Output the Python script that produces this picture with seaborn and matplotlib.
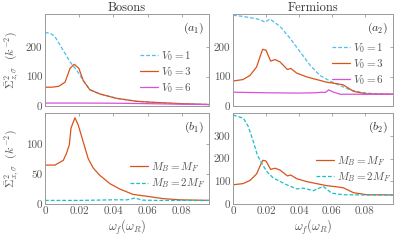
import numpy as np
import pandas as pd
import matplotlib
matplotlib.use("Agg")
import matplotlib.pyplot as plt
import seaborn as sns

# === DATA ===
# (a1) Bosons, Sigma^2 vs omega_f for three lattice depths
w_a1_v1 = [0.0, 0.003, 0.0058, 0.0087, 0.0117, 0.0146, 0.0185, 0.0223, 0.026, 0.032, 0.042, 0.0535, 0.065, 0.08, 0.0958]
s_a1_v1 = [250, 248, 236, 208, 179, 150, 122, 87, 57, 41, 26, 16, 11, 7, 5]
w_a1_v3 = [0.0, 0.004, 0.008, 0.0117, 0.0146, 0.0171, 0.0198, 0.0223, 0.0262, 0.032, 0.0418, 0.0535, 0.065, 0.08, 0.0958]
s_a1_v3 = [64, 64, 67, 81, 128, 142, 128, 87, 55, 41, 26, 16, 12, 8, 5]
w_a1_v6 = [0.0, 0.02, 0.04, 0.06, 0.08, 0.0958]
s_a1_v6 = [10, 10, 9.5, 8, 6, 5]

# (a2) Fermions
w_a2_v1 = [0.0, 0.006, 0.012, 0.0164, 0.0194, 0.0224, 0.0285, 0.0345, 0.0406, 0.0467, 0.0527,
           0.0588, 0.0648, 0.0709, 0.077, 0.085, 0.097]
s_a2_v1 = [309, 305, 299, 294, 285, 296, 271, 231, 185, 139, 104, 85, 70, 55, 47, 42, 40]
w_a2_v3 = [0.0, 0.006, 0.0103, 0.0143, 0.0164, 0.018, 0.02, 0.0228, 0.0255, 0.0285, 0.033, 0.035,
           0.0386, 0.0447, 0.0507, 0.0568, 0.0628, 0.0668, 0.073, 0.081, 0.097]
s_a2_v3 = [85, 90, 104, 133, 168, 193, 190, 153, 158, 150, 124, 128, 112, 99, 90, 81, 76, 72, 50, 41, 40]
w_a2_v6 = [0.0, 0.02, 0.04, 0.05, 0.054, 0.056, 0.058, 0.061, 0.065, 0.08, 0.097]
s_a2_v6 = [47, 45, 44, 45, 47, 46, 55, 47, 40, 40, 40]

# (b1) Bosons, two mass ratios
w_b1_eq = [0.0, 0.0058, 0.0107, 0.0126, 0.0142, 0.0152, 0.0175, 0.0194, 0.0223, 0.0252, 0.0282,
           0.032, 0.0379, 0.0437, 0.0515, 0.0593, 0.069, 0.0787, 0.0958]
s_b1_eq = [65, 65, 73, 85, 99, 127, 144, 132, 104, 76, 60, 48, 34, 25, 16, 13, 9, 7, 6]
w_b1_2x = [0.0, 0.02, 0.04, 0.048, 0.0525, 0.057, 0.065, 0.08, 0.0958]
s_b1_2x = [6, 6, 7, 7, 10, 6.5, 6, 6, 6]

# (b2) Fermions
w_b2_eq = w_a2_v3
s_b2_eq = s_a2_v3
w_b2_2x = [0.0, 0.0063, 0.0093, 0.0123, 0.0147, 0.0174, 0.0204, 0.0244, 0.0285, 0.0325, 0.0386,
           0.0426, 0.0487, 0.0547, 0.0598, 0.0668, 0.08, 0.097]
s_b2_2x = [393, 379, 342, 276, 217, 180, 144, 115, 100, 85, 67, 70, 59, 78, 48, 41, 40, 40]

xticks = [0, 0.02, 0.04, 0.06, 0.08]
xticklabels = ["0", "0.02", "0.04", "0.06", "0.08"]

# === STYLE ===
sns.set_style("white")
plt.rcParams["font.family"] = "serif"
plt.rcParams["font.serif"] = ["cmr10", "DejaVu Serif"]
plt.rcParams["mathtext.fontset"] = "cm"
plt.rcParams["axes.formatter.use_mathtext"] = True

ORANGE = "#D95319"
LBLUE = "#4DBEEE"
MAGENTA = "#DC4FDC"
CYAN = "#1ABFC6"
GREY = "#9a9a9a"
TXT = "#555555"
DASH = (0, (3, 1.6))

fig = plt.figure(figsize=(3.99, 2.42), dpi=100)
ax_a1 = fig.add_axes([0.1128, 0.562, 0.411, 0.380])
ax_a2 = fig.add_axes([0.584, 0.562, 0.401, 0.380])
ax_b1 = fig.add_axes([0.1128, 0.157, 0.411, 0.376])
ax_b2 = fig.add_axes([0.584, 0.157, 0.401, 0.376])


def line(ax, x, y, color, ls, label):
    sns.lineplot(x=x, y=y, ax=ax, color=color, linestyle=ls, linewidth=0.9, label=label)


line(ax_a1, w_a1_v1, s_a1_v1, LBLUE, DASH, r"$V_0 = 1$")
line(ax_a1, w_a1_v3, s_a1_v3, ORANGE, "-", r"$V_0 = 3$")
line(ax_a1, w_a1_v6, s_a1_v6, MAGENTA, "-", r"$V_0 = 6$")

line(ax_a2, w_a2_v1, s_a2_v1, LBLUE, DASH, r"$V_0 = 1$")
line(ax_a2, w_a2_v3, s_a2_v3, ORANGE, "-", r"$V_0 = 3$")
line(ax_a2, w_a2_v6, s_a2_v6, MAGENTA, "-", r"$V_0 = 6$")

line(ax_b1, w_b1_eq, s_b1_eq, ORANGE, "-", r"$M_B = M_F$")
line(ax_b1, w_b1_2x, s_b1_2x, CYAN, DASH, r"$M_B = 2M_F$")

line(ax_b2, w_b2_eq, s_b2_eq, ORANGE, "-", r"$M_B = M_F$")
line(ax_b2, w_b2_2x, s_b2_2x, CYAN, DASH, r"$M_B = 2M_F$")

limits = {ax_a1: (0.0958, 313, [0, 100, 200]),
          ax_a2: (0.097, 313, [0, 100, 200]),
          ax_b1: (0.0958, 152, [0, 50, 100]),
          ax_b2: (0.097, 402, [0, 100, 200, 300])}

for ax, (xmax, ymax, yt) in limits.items():
    ax.set_xlim(0, xmax)
    ax.set_ylim(0, ymax)
    ax.set_yticks(yt)
    ax.set_yticklabels([str(v) for v in yt])
    ax.set_xticks(xticks)
    ax.set_xlabel("")
    ax.set_ylabel("")
    for s in ax.spines.values():
        s.set_color(GREY)
        s.set_linewidth(0.7)
    ax.tick_params(direction="in", length=2.5, width=0.6, color=GREY, labelcolor=TXT,
                   labelsize=8, top=True, right=True, pad=2)

for ax in (ax_a1, ax_a2):
    ax.set_xticklabels([])
for ax in (ax_b1, ax_b2):
    ax.set_xticklabels(xticklabels)
    ax.set_xlabel(r"$\omega_f(\omega_R)$", fontsize=9, color=TXT, labelpad=1)

ax_a1.set_title("Bosons", fontsize=9, color="#333333", pad=1.5)
ax_a2.set_title("Fermions", fontsize=9, color="#333333", pad=1.5)

ax_a1.set_ylabel(r"$\bar{\Sigma}^2_{z,\sigma}\ \ (k^{-2})$", fontsize=8.5, color=TXT, labelpad=3)
ax_b1.set_ylabel(r"$\bar{\Sigma}^2_{x,\sigma}\ \ (k^{-2})$", fontsize=8.5, color=TXT, labelpad=3)

for ax, tag in ((ax_a1, "(a_1)"), (ax_a2, "(a_2)"), (ax_b1, "(b_1)"), (ax_b2, "(b_2)")):
    ax.text(0.97, 0.93, "$" + tag + "$", transform=ax.transAxes, ha="right", va="top",
            fontsize=8.5, color="#333333")

leg_kw = dict(frameon=False, fontsize=8, handlelength=1.6, handletextpad=0.3,
              labelspacing=0.2, borderpad=0, borderaxespad=0, labelcolor=TXT)
ax_a1.legend(loc="upper left", bbox_to_anchor=(0.58, 0.62), **leg_kw)
ax_a2.legend(loc="upper left", bbox_to_anchor=(0.62, 0.71), **leg_kw)
ax_b1.legend(loc="upper left", bbox_to_anchor=(0.52, 0.48), **leg_kw)
ax_b2.legend(loc="upper left", bbox_to_anchor=(0.52, 0.55), **leg_kw)

fig.savefig("out.png", dpi=100)
